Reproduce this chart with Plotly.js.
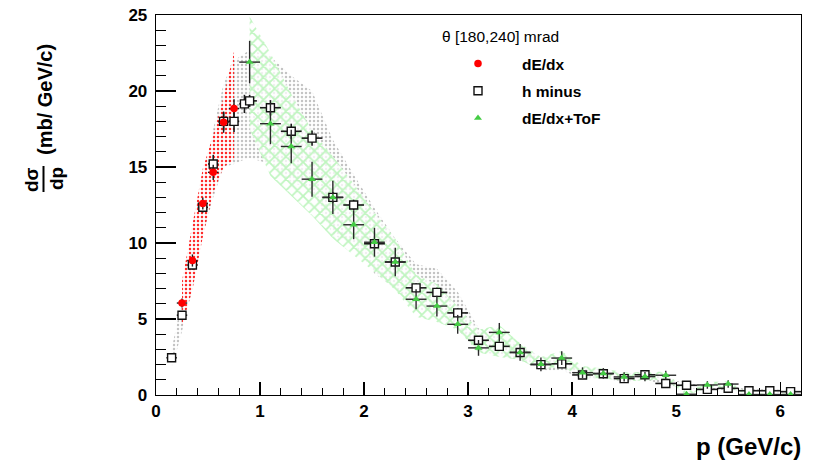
<!DOCTYPE html>
<html>
<head>
<meta charset="utf-8">
<script src="https://cdn.plot.ly/plotly-3.0.1.min.js"></script>
<style>html,body{margin:0;padding:0;background:#fff;}#chart{width:825px;height:468px;}</style>
</head>
<body>
<div id="chart"></div>
<script>
// ---- h minus ----
const hmX  = [0.15,0.25,0.35,0.45,0.55,0.65,0.75,0.85,0.9,1.1,1.3,1.5,1.7,1.9,2.1,2.3,2.5,2.7,2.9,3.1,3.3,3.5,3.7,3.9,4.1,4.3,4.5,4.7,4.9,5.1,5.3,5.5,5.7,5.9,6.1];
const hmY  = [2.45,5.25,8.55,12.35,15.2,18.0,18.0,19.15,19.35,18.9,17.35,16.9,13.0,12.5,9.95,8.75,7.05,6.75,5.4,3.6,3.2,2.8,2.0,2.05,1.32,1.4,1.08,1.33,0.76,0.64,0.37,0.44,0.28,0.28,0.22];
const hmEy = [0.15,0.25,0.3,0.35,0.6,0.6,0.7,0.6,0.4,0.5,0.5,0.5,0.35,0.35,0.3,0.3,0.3,0.3,0.3,0.25,0.25,0.25,0.2,0.2,0.2,0.2,0.15,0.15,0.15,0.15,0.12,0.12,0.1,0.1,0.1];
const hmEx = [0.05,0.05,0.05,0.05,0.05,0.05,0.05,0.05,0.07,0.1,0.1,0.1,0.1,0.1,0.1,0.1,0.1,0.1,0.1,0.1,0.1,0.1,0.1,0.1,0.1,0.1,0.1,0.1,0.1,0.1,0.1,0.1,0.1,0.1,0.1];
const hmHigh = [3.0,6.3,10.0,14.0,17.5,20.5,22.0,22.5,22.7,22.3,21.0,20.0,16.8,14.5,12.3,10.3,8.6,8.3,6.8,4.4,3.9,3.3,2.5,2.5,1.7,1.75,1.35,1.6,1.0,0.85,0.5,0.6,0.38,0.38,0.3];
const hmLow  = [1.7,4.2,7.0,10.5,13.0,15.0,15.2,15.5,15.6,15.2,14.0,13.5,10.5,10.0,8.0,7.0,5.6,5.4,4.3,2.9,2.6,2.3,1.6,1.65,1.05,1.1,0.85,1.05,0.6,0.5,0.28,0.33,0.2,0.2,0.15];

// ---- dE/dx ----
const dedxX  = [0.25,0.35,0.45,0.55,0.65,0.75];
const dedxY  = [6.05,8.85,12.6,14.65,17.95,18.85];
const dedxEy = [0.3,0.4,0.4,0.5,0.7,0.6];
const dedxEx = [0.05,0.05,0.05,0.05,0.05,0.05];
const dedxHigh = [7.5,11.2,14.9,17.1,19.6,22.6];
const dedxLow  = [4.6,6.9,10.4,13.3,15.0,15.5];

// ---- dE/dx+ToF ----
const tofX  = [0.9,1.1,1.3,1.5,1.7,1.9,2.1,2.3,2.5,2.7,2.9,3.1,3.3,3.5,3.7,3.9,4.1,4.3,4.5,4.7,4.9,5.1,5.3,5.5,5.7,5.9,6.1];
const tofY  = [21.9,17.85,16.35,14.2,13.0,11.2,10.05,8.75,6.3,5.85,4.65,3.1,4.12,2.8,2.02,2.43,1.47,1.42,1.19,1.21,1.3,0.05,0.66,0.72,0.03,0.03,0.03];
const tofEy = [1.4,1.35,1.1,1.15,1.1,0.95,0.95,0.93,0.66,0.68,0.62,0.52,0.62,0.55,0.45,0.45,0.35,0.35,0.3,0.3,0.3,0.1,0.25,0.25,0.05,0.05,0.05];
const tofEx = [0.1,0.1,0.1,0.1,0.1,0.1,0.1,0.1,0.1,0.1,0.1,0.1,0.1,0.1,0.1,0.1,0.1,0.1,0.1,0.1,0.1,0.1,0.1,0.1,0.1,0.1,0.1];
const tofHigh = [24.9,22.5,19.8,17.4,15.7,13.9,12.0,10.3,7.9,7.3,5.8,4.3,4.6,3.4,2.5,2.9,1.9,1.75,1.5,1.5,1.55,0.2,0.85,0.9,0.1,0.1,0.1];
const tofLow  = [17.5,14.4,13.1,11.8,10.3,9.2,8.1,6.9,5.15,4.8,4.3,2.8,2.5,2.3,1.65,1.9,1.1,1.1,0.9,0.95,1.0,0.0,0.45,0.5,0.0,0.0,0.0];

const xTicks = [0,1,2,3,4,5,6];
const yTicks = [0,5,10,15,20,25];
const legendTitle = 'θ [180,240] mrad';
const names = ['dE/dx','h minus','dE/dx+ToF'];

const FONT = 'Liberation Sans, Arial, Helvetica, sans-serif';

function band(xs, lo, hi, pattern) {
  return {
    x: xs.concat(xs.slice().reverse()),
    y: hi.concat(lo.slice().reverse()),
    type: 'scatter', mode: 'lines', fill: 'toself',
    line: {width: 0}, fillcolor: 'rgba(0,0,0,0)',
    fillpattern: pattern, showlegend: false, hoverinfo: 'skip'
  };
}

const traces = [
  band(hmX, hmLow, hmHigh, {shape: '.', fgcolor: '#c4c4c4', bgcolor: 'rgba(255,255,255,0)', size: 4, solidity: 0.3}),
  band(tofX, tofLow, tofHigh, {shape: 'x', fgcolor: '#bff5bf', bgcolor: 'rgba(255,255,255,0.75)', size: 8, solidity: 0.4}),
  band(dedxX, dedxLow, dedxHigh, {shape: '.', fgcolor: '#ff2a2a', bgcolor: 'rgba(255,255,255,0.6)', size: 4, solidity: 0.3}),
  {
    name: names[1], x: hmX, y: hmY, type: 'scatter', mode: 'markers',
    marker: {symbol: 'square', size: 8, color: '#ffffff', line: {color: '#111', width: 1.4}},
    error_y: {type: 'data', array: hmEy, color: '#1a1a1a', thickness: 1.6, width: 0},
    error_x: {type: 'data', array: hmEx, color: '#1a1a1a', thickness: 1.6, width: 0},
    legendgroup: 'b', legendrank: 2
  },
  {
    name: names[0], x: dedxX, y: dedxY, type: 'scatter', mode: 'markers',
    marker: {symbol: 'circle', size: 7.5, color: '#ff0000'},
    error_y: {type: 'data', array: dedxEy, color: '#1a1a1a', thickness: 1.4, width: 0},
    error_x: {type: 'data', array: dedxEx, color: '#1a1a1a', thickness: 1.4, width: 0},
    legendgroup: 'a', legendrank: 1
  },
  {
    name: names[2], x: tofX, y: tofY, type: 'scatter', mode: 'markers',
    marker: {symbol: 'triangle-up', size: 7, color: '#44cc44'},
    error_y: {type: 'data', array: tofEy, color: '#2a2a2a', thickness: 1.4, width: 0},
    error_x: {type: 'data', array: tofEx, color: '#2a2a2a', thickness: 1.4, width: 0},
    legendgroup: 'c', legendrank: 3
  }
];

function px2x(p) { return (p - 156) / 645; }
function py2y(p) { return (395 - p) / 380; }

const layout = {
  width: 825, height: 468,
  margin: {l: 156, r: 24, t: 15, b: 73},
  paper_bgcolor: '#ffffff', plot_bgcolor: '#ffffff',
  font: {family: FONT, color: '#000'},
  showlegend: true,
  legend: {
    x: px2x(434), y: py2y(47), xanchor: 'left', yanchor: 'top',
    bgcolor: 'rgba(0,0,0,0)', borderwidth: 0,
    font: {family: FONT, size: 15.5, weight: 'bold', color: '#000'},
    itemwidth: 78, tracegroupgap: 4, traceorder: 'grouped'
  },
  xaxis: {
    range: [0, 6.2], tickvals: xTicks, ticktext: xTicks.map(String),
    ticks: 'inside', ticklen: 13, tickwidth: 1.3, tickcolor: '#000',
    minor: {dtick: 0.2, ticks: 'inside', ticklen: 7, tickwidth: 1, tickcolor: '#000'},
    showline: true, linecolor: '#000', linewidth: 1.3, mirror: true,
    showgrid: false, zeroline: false,
    tickfont: {family: FONT, size: 17, weight: 'bold', color: '#000'}
  },
  yaxis: {
    range: [0, 25], tickvals: yTicks, ticktext: yTicks.map(String),
    ticks: 'inside', ticklen: 20, tickwidth: 1.3, tickcolor: '#000',
    minor: {dtick: 1, ticks: 'inside', ticklen: 10, tickwidth: 1, tickcolor: '#000'},
    showline: true, linecolor: '#000', linewidth: 1.3, mirror: true,
    showgrid: false, zeroline: false, ticklabelstandoff: 4,
    tickfont: {family: FONT, size: 17, weight: 'bold', color: '#000'}
  },
  annotations: [
    {xref: 'paper', yref: 'paper', x: px2x(803), y: py2y(446), xanchor: 'right', yanchor: 'middle',
     text: 'p (GeV/c)', showarrow: false, font: {family: FONT, size: 24, weight: 'bold', color: '#000'}},
    {xref: 'paper', yref: 'paper', x: px2x(45), y: py2y(99), xanchor: 'center', yanchor: 'middle', textangle: -90,
     text: '(mb/ GeV/c)', showarrow: false, font: {family: FONT, size: 20, weight: 'bold', color: '#000'}},
    {xref: 'paper', yref: 'paper', x: px2x(31), y: py2y(179), xanchor: 'center', yanchor: 'middle', textangle: -90,
     text: 'dσ', showarrow: false, font: {family: FONT, size: 19, weight: 'bold', color: '#000'}},
    {xref: 'paper', yref: 'paper', x: px2x(56), y: py2y(179), xanchor: 'center', yanchor: 'middle', textangle: -90,
     text: 'dp', showarrow: false, font: {family: FONT, size: 19, weight: 'bold', color: '#000'}},
    {xref: 'paper', yref: 'paper', x: px2x(440), y: py2y(37), xanchor: 'left', yanchor: 'middle',
     text: legendTitle, showarrow: false, font: {family: FONT, size: 15.5, color: '#000'}}
  ],
  shapes: [
    {type: 'line', xref: 'paper', yref: 'paper', x0: px2x(43.5), x1: px2x(43.5), y0: py2y(166), y1: py2y(192),
     line: {color: '#000', width: 2}}
  ]
};

Plotly.newPlot('chart', traces, layout, {displayModeBar: false, staticPlot: true});
</script>
</body>
</html>
